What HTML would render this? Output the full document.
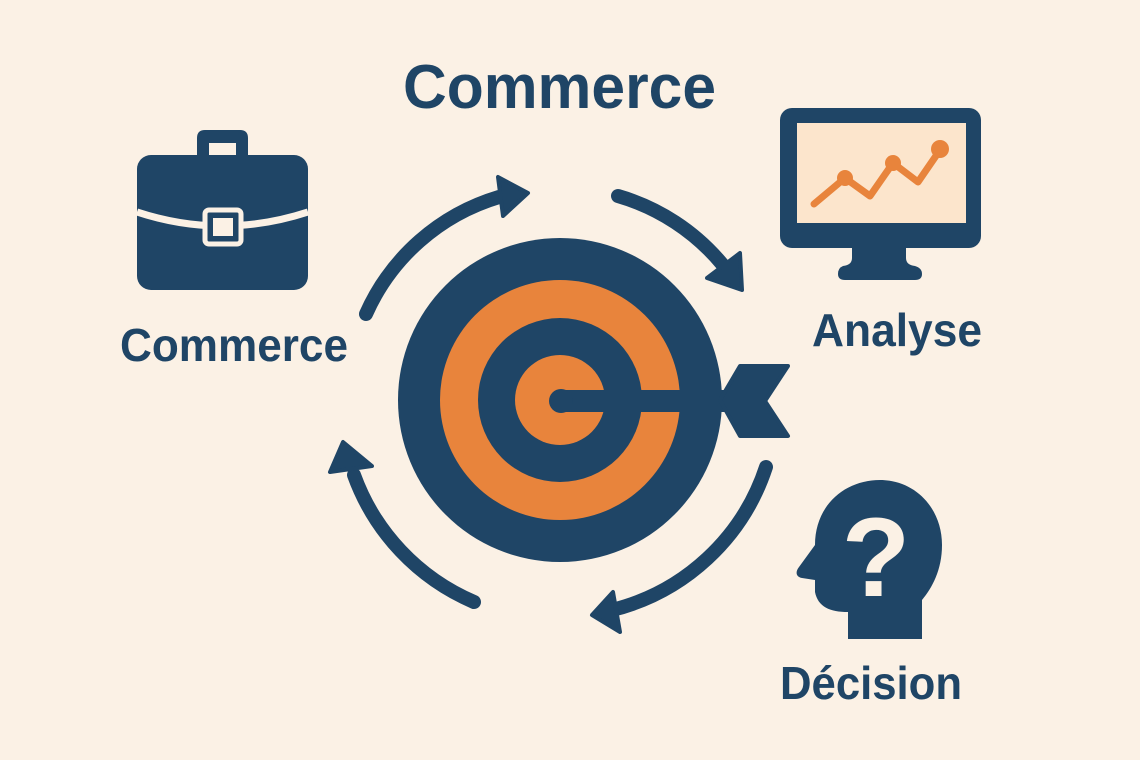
<!DOCTYPE html>
<html><head><meta charset="utf-8"><style>
html,body{margin:0;padding:0;background:#fbf1e5;}
svg{display:block;}
</style></head><body>
<svg width="1140" height="760" viewBox="0 0 1140 760" xmlns="http://www.w3.org/2000/svg">
<rect width="1140" height="760" fill="#fbf1e5"/>
<g font-family="Liberation Sans, sans-serif" font-weight="bold" fill="#1f4566">
<text x="403" y="108" font-size="62" textLength="313" lengthAdjust="spacingAndGlyphs">Commerce</text>
<text x="120" y="361" font-size="46" textLength="228" lengthAdjust="spacingAndGlyphs">Commerce</text>
<text x="812" y="346" font-size="46" textLength="170" lengthAdjust="spacingAndGlyphs">Analyse</text>
<text x="780" y="699" font-size="46" textLength="182" lengthAdjust="spacingAndGlyphs">Décision</text>
</g>
<!-- briefcase -->
<g fill="#1f4566">
<path d="M197 155 L197 138 Q197 130 205 130 L240 130 Q248 130 248 138 L248 155 L236 155 L236 143 L209 143 L209 155 Z"/>
<rect x="137" y="155" width="171" height="135" rx="14"/>
</g>
<path d="M137 212 Q222 240 308 212" stroke="#fbf1e5" stroke-width="7" fill="none"/>
<rect x="205" y="210" width="36" height="34" rx="4" fill="#1f4566" stroke="#fbf1e5" stroke-width="5"/>
<rect x="213" y="218" width="20" height="18" fill="#fbf1e5"/>
<!-- monitor -->
<rect x="780" y="108" width="201" height="140" rx="12" fill="#1f4566"/>
<rect x="797" y="123" width="169" height="100" fill="#fce5cc"/>
<path d="M852 246 L852 258 Q852 265 843 266 Q838 268 838 274 Q838 280 845 280 L915 280 Q922 280 922 274 Q922 268 915 266 Q906 265 906 258 L906 246 Z" fill="#1f4566"/>
<polyline points="814,204 845,178 870,196 893,163 918,182 940,150" fill="none" stroke="#e8843c" stroke-width="7" stroke-linecap="round" stroke-linejoin="round"/>
<circle cx="845" cy="178" r="8" fill="#e8843c"/>
<circle cx="893" cy="163" r="8" fill="#e8843c"/>
<circle cx="940" cy="149" r="9" fill="#e8843c"/>
<!-- head -->
<path d="M848 639 L848 612 C830 612 818 607 815 592 L815 580 L802 578 C796 577 795 572 799 567 L815 545 C815 505 845 480 880 480 C915 480 942 508 942 545 C942 570 932 588 922 600 L922 639 Z" fill="#1f4566"/>
<text x="876" y="596" font-family="Liberation Sans, sans-serif" font-weight="bold" font-size="112" fill="#fbf1e5" text-anchor="middle">?</text>
<!-- target -->
<circle cx="560" cy="400" r="162" fill="#1f4566"/>
<circle cx="560" cy="400" r="120" fill="#e8843c"/>
<circle cx="560" cy="400" r="82" fill="#1f4566"/>
<circle cx="560" cy="400" r="45" fill="#e8843c"/>
<rect x="560" y="390" width="175" height="22" fill="#1f4566"/>
<circle cx="561" cy="401" r="12" fill="#1f4566"/>
<path d="M720 400 L740 366 L788 366 L765 401 L788 436 L740 436 Z" fill="#1f4566" stroke="#1f4566" stroke-width="4" stroke-linejoin="round"/>
<!-- cycle arrows -->
<g fill="none" stroke="#1f4566" stroke-width="14" stroke-linecap="round">
<path d="M366 314 A212 212 0 0 1 499 197"/>
<path d="M618 196 A212 212 0 0 1 722 264"/>
<path d="M766 467 A217 217 0 0 1 612 610"/>
<path d="M474 602 A219 219 0 0 1 354 475"/>
</g>
<g fill="#1f4566" stroke="#1f4566" stroke-width="4" stroke-linejoin="round">
<polygon points="528,193 498,177 503,216"/>
<polygon points="742,290 707,278 740,253"/>
<polygon points="592,615 613,592 620,632"/>
<polygon points="343,442 330,472 372,466"/>
</g>
</svg>
</body></html>
